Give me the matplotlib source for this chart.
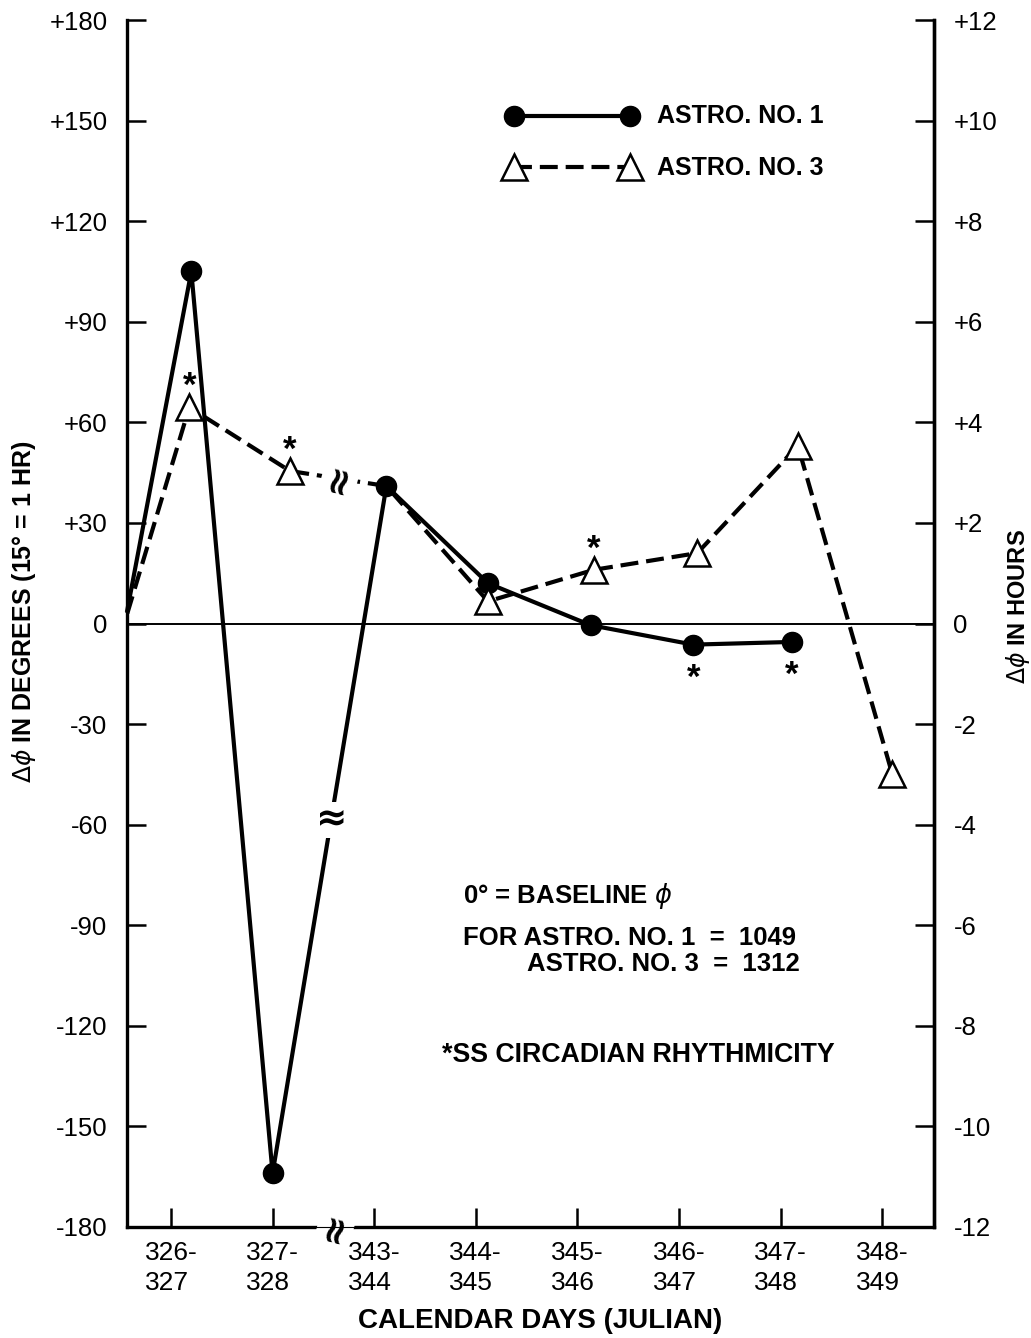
import matplotlib
matplotlib.use('Agg')
import matplotlib.pyplot as plt

# ---- data ----
day_labels = ['326-\n327', '327-\n328', '343-\n344', '344-\n345',
              '345-\n346', '346-\n347', '347-\n348', '348-\n349']
astro1_x = [-0.43, 0.20, 1.00, 2.12, 3.12, 4.13, 5.14, 6.11]
astro1_deg = [4, 105, -164, 41, 12, -0.5, -6.3, -5.5]
astro3_x = [-0.43, 0.18, 1.17, 2.12, 3.12, 4.16, 5.18, 6.17, 7.10]
astro3_deg = [3, 64.5, 45.5, 41, 6.6, 16, 21, 53, -45]
astro1_ss = [6, 7]          # points marked with * (below)
astro3_ss = [1, 2, 5]       # points marked with * (above)
deg_ticks = [-180, -150, -120, -90, -60, -30, 0, 30, 60, 90, 120, 150, 180]
hour_ticks = [-12, -10, -8, -6, -4, -2, 0, 2, 4, 6, 8, 10, 12]

FONT = ['Liberation Sans', 'DejaVu Sans']
plt.rcParams['font.family'] = FONT
plt.rcParams['mathtext.fontset'] = 'dejavusans'

W, H = 1031, 1338
fig = plt.figure(figsize=(W / 100, H / 100), dpi=100)
L, R, T, B = 127, 934, 20, 1227
ax = fig.add_axes([L / W, 1 - B / H, (R - L) / W, (B - T) / H])
ax.set_xlim(-0.433, 7.51)
ax.set_ylim(-180, 180)

DASH = (0, (4.3, 1.9))

# zero line
ax.axhline(0, color='black', lw=1.4, zorder=1)

# Astro 1
ax.plot(astro1_x, astro1_deg, color='black', lw=3.0, marker='o', ms=14.5,
        markevery=list(range(1, len(astro1_x))), mfc='black', mec='black',
        zorder=3, clip_on=False)
# Astro 3
ax.plot(astro3_x, astro3_deg, color='black', lw=3.0, ls=DASH,
        marker='^', ms=19, mfc='white', mec='black', mew=1.8,
        markevery=[1, 2, 4, 5, 6, 7, 8], zorder=4, clip_on=False)

# asterisks
for i in astro3_ss:
    ax.annotate('*', (astro3_x[i], astro3_deg[i]), xytext=(0, 15),
                textcoords='offset points', ha='center', va='center',
                fontsize=25, fontweight='bold', zorder=6)
for i in astro1_ss:
    ax.annotate('*', (astro1_x[i], astro1_deg[i]), xytext=(0, -24),
                textcoords='offset points', ha='center', va='center',
                fontsize=25, fontweight='bold', zorder=6)

# break marks
brk = dict(ha='center', va='center', fontsize=27, fontweight='bold',
           family=['DejaVu Sans'], zorder=7,
           bbox=dict(boxstyle='square,pad=0.0', fc='white', ec='none'))
ax.text(1.66, 43.2, '\u2248', rotation=75, **brk)
ax.text(1.58, -58.6, '\u2248', rotation=0, **brk)
ax.text(1.62, -180, '\u2248', rotation=75, clip_on=False, **brk)

# axes styling
for s in ['left', 'bottom', 'right']:
    ax.spines[s].set_linewidth(2.4)
ax.spines['top'].set_visible(False)
ax.set_xticks(range(len(day_labels)))
ax.set_xticklabels(day_labels, fontsize=19, linespacing=1.3,
                   multialignment='left')
ax.set_yticks(deg_ticks)
ax.set_yticklabels([('+%d' % v if v > 0 else str(v)) for v in deg_ticks],
                   fontsize=18.5)
ax.tick_params(axis='both', direction='in', length=14, width=1.8)
ax.tick_params(axis='x', pad=10)
ax.tick_params(axis='y', pad=14)

ax2 = ax.twinx()
ax2.set_ylim(-12, 12)
ax2.set_yticks(hour_ticks)
ax2.set_yticklabels([('+%d' % v if v > 0 else str(v)) for v in hour_ticks],
                    fontsize=18.5)
ax2.tick_params(axis='y', direction='in', length=14, width=1.8, pad=14)
ax2.spines['top'].set_visible(False)
ax2.spines['right'].set_linewidth(2.4)

# axis labels
fig.text(24 / W, 1 - 612 / H, r'$\Delta\phi$ IN DEGREES (15° = 1 HR)',
         rotation=90, ha='center', va='center', fontsize=18, fontweight='bold')
fig.text(1018 / W, 1 - 607 / H, r'$\Delta\phi$ IN HOURS',
         rotation=90, ha='center', va='center', fontsize=17, fontweight='bold')
fig.text(540 / W, 1 - 1321 / H, 'CALENDAR DAYS (JULIAN)',
         ha='center', va='center', fontsize=20, fontweight='bold')

# legend (manual)
lx0, lx1 = 514 / W, 630 / W
fig.add_artist(plt.Line2D([lx0, lx1], [1 - 116 / H] * 2, color='black', lw=3,
                          marker='o', ms=14.5, transform=fig.transFigure))
fig.add_artist(plt.Line2D([lx0, lx1], [1 - 167 / H] * 2, color='black', lw=3,
                          ls=DASH, marker='^', ms=19, mfc='white',
                          mew=1.8, transform=fig.transFigure))
fig.text(657 / W, 1 - 116 / H, 'ASTRO. NO. 1', ha='left', va='center',
         fontsize=18, fontweight='bold')
fig.text(657 / W, 1 - 168 / H, 'ASTRO. NO. 3', ha='left', va='center',
         fontsize=18, fontweight='bold')

# notes
NS = 18.5
fig.text(463 / W, 1 - 896 / H, '0° = BASELINE $\\phi$', ha='left',
         va='center', fontsize=NS, fontweight='bold')
fig.text(463 / W, 1 - 938 / H, 'FOR ASTRO. NO. 1  =  1049', ha='left',
         va='center', fontsize=NS, fontweight='bold')
fig.text(527 / W, 1 - 964 / H, 'ASTRO. NO. 3  =  1312', ha='left',
         va='center', fontsize=NS, fontweight='bold')
fig.text(442 / W, 1 - 1055 / H, '*SS CIRCADIAN RHYTHMICITY', ha='left',
         va='center', fontsize=19.3, fontweight='bold')

fig.savefig('out.png', dpi=100, facecolor='white')
